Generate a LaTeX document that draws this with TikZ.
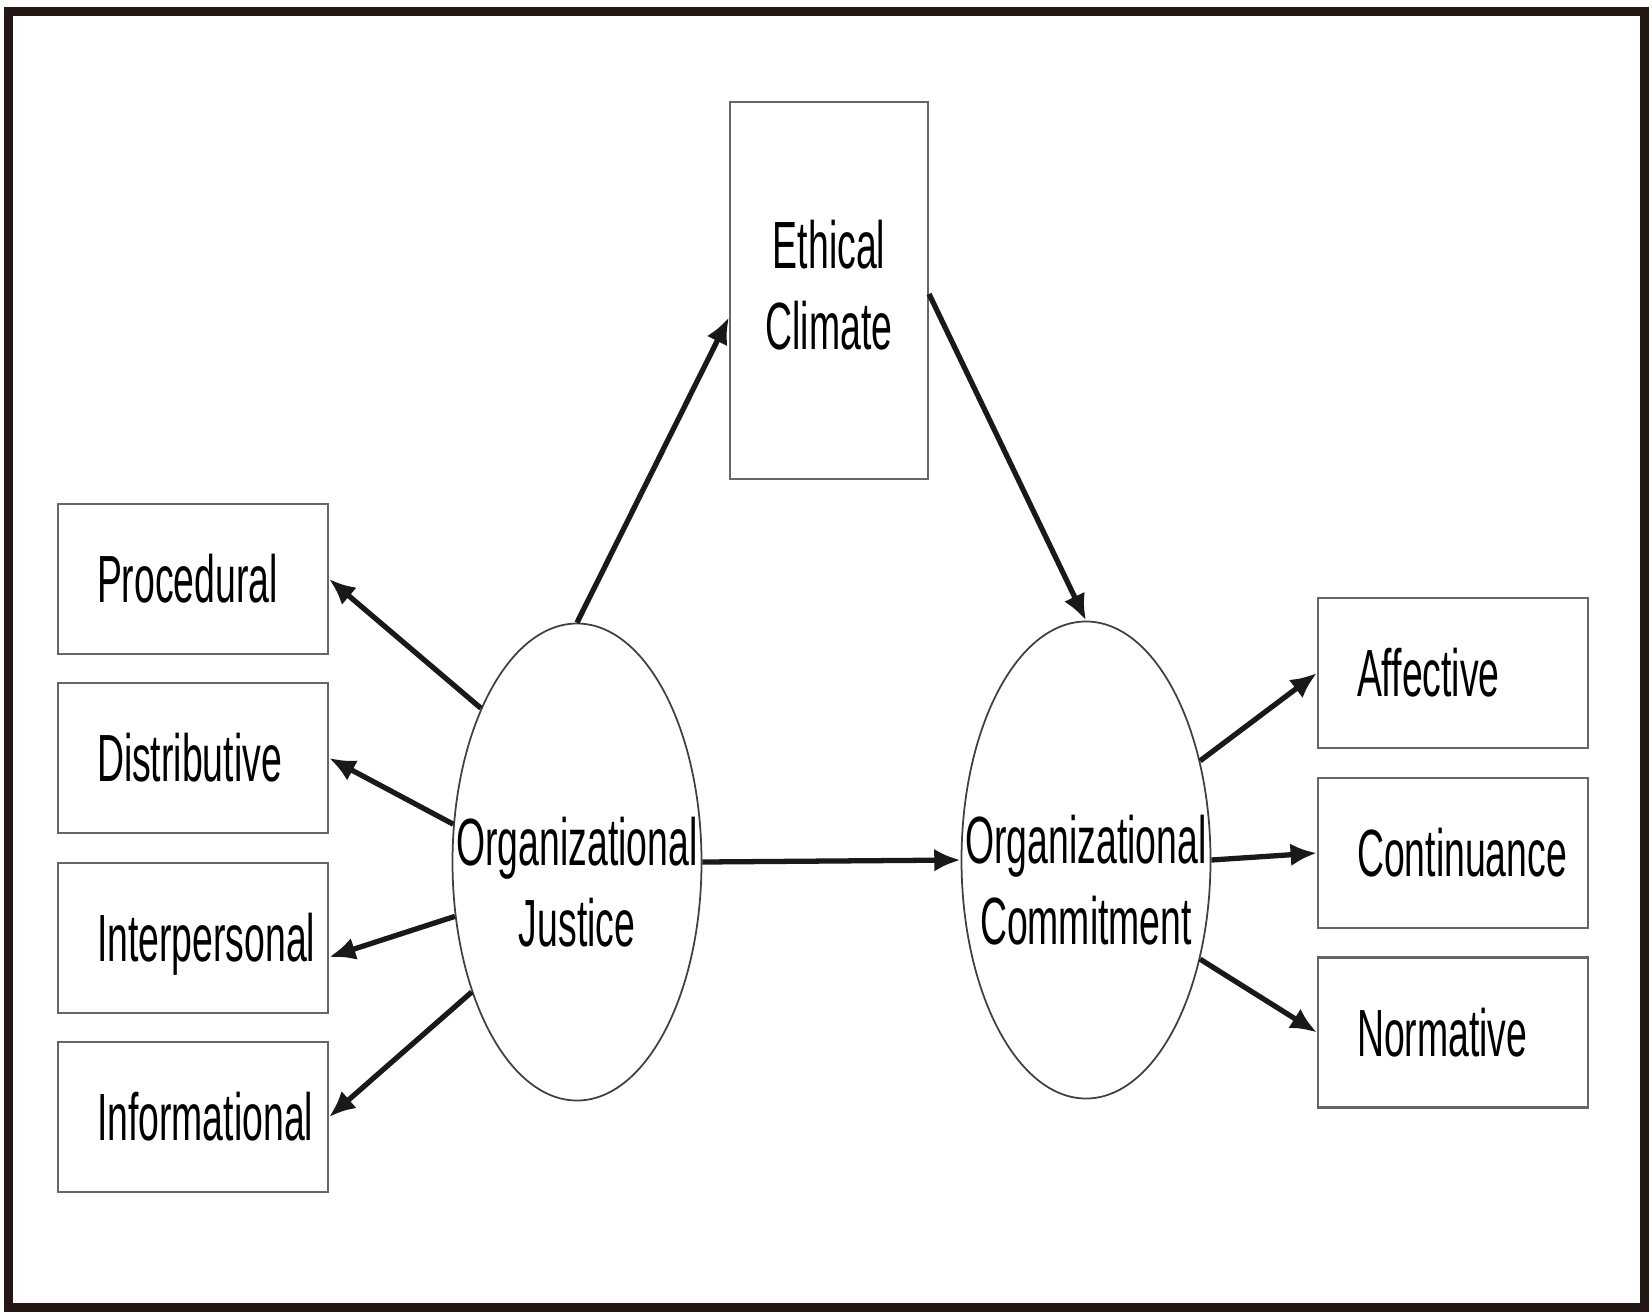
\documentclass[tikz,border=0pt]{standalone}
\usepackage{fontspec}
\setmainfont{Liberation Sans}[FakeStretch=0.56]
\usepackage{tikz}
\usetikzlibrary{shapes.geometric}
\usetikzlibrary{arrows.meta}
\usepackage{xcolor}
\definecolor{framecol}{RGB}{35,24,21}

\begin{document}
\begin{tikzpicture}
		\pgfmathsetmacro{\W}{16.52}
		\pgfmathsetmacro{\H}{13.12}
		\tikzstyle{factor}=[draw=black!60, line width=.6pt, rectangle, minimum width=2.70cm, minimum height=1.50cm, text width=1.92cm, inner xsep=.39cm, align=left, text height=13.6pt, text depth=0pt, font=\fontsize{19}{23}\selectfont]
		\tikzstyle{construct}=[draw=black!75, line width=.5pt, ellipse, minimum width=2.49cm, minimum height=4.77cm, inner sep=0pt]
		\tikzstyle{caption}=[font=\fontsize{19}{23}\selectfont, align=center]
		\tikzstyle{edge}=[draw, line width=1.5pt, black!90, -{Latex[length=7.5pt,width=6.5pt]}]

		\useasboundingbox (0,0) rectangle (\W,\H);
		\draw[line width=.09cm, framecol] (.09,.05) rectangle (16.44,13.01);

		% dimensions of justice
		\node[factor] (proc) at (1.93,7.33) {Procedural};
		\node[factor] (dist) at (1.93,5.54) {Distributive};
		\node[factor] (inter) at (1.93,3.74) {Interpersonal};
		\node[factor] (info) at (1.93,1.95) {Informational};

		\node[draw=black!60, line width=.6pt, minimum width=1.98cm, minimum height=3.77cm, caption, text depth=.12cm] (eth) at (8.29,10.215) {Ethical\\Climate};

		\node[construct, label={[caption, yshift=-.2cm]center:{Organizational\\Justice}}] (oj) at (5.77,4.50) {};
		\node[construct, label={[caption, yshift=-.2cm]center:{Organizational\\Commitment}}] (oc) at (10.86,4.52) {};

		% dimensions of commitment
		\node[factor] (aff) at (14.53,6.39) {Affective};
		\node[factor] (cont) at (14.53,4.59) {Continuance};
		\node[factor] (norm) at (14.53,2.795) {Normative};

		\draw[edge] (oj.122) -- (proc.east);
		\draw[edge] (oj.163) -- (dist.east);
		\draw[edge] (oj.204) -- (inter.-8.7);
		\draw[edge] (oj.231) -- (info.east);
		\draw[edge] (oj.north) -- (eth.195.5);
		\draw[edge] (eth.-2) -- (oc.north);
		\draw[edge] (oj.east) -- (oc.west);
		\draw[edge] (oc.41) -- (aff.west);
		\draw[edge] (oc.east) -- (cont.west);
		\draw[edge] (oc.-41) -- (norm.west);
	\end{tikzpicture}
\end{document}
